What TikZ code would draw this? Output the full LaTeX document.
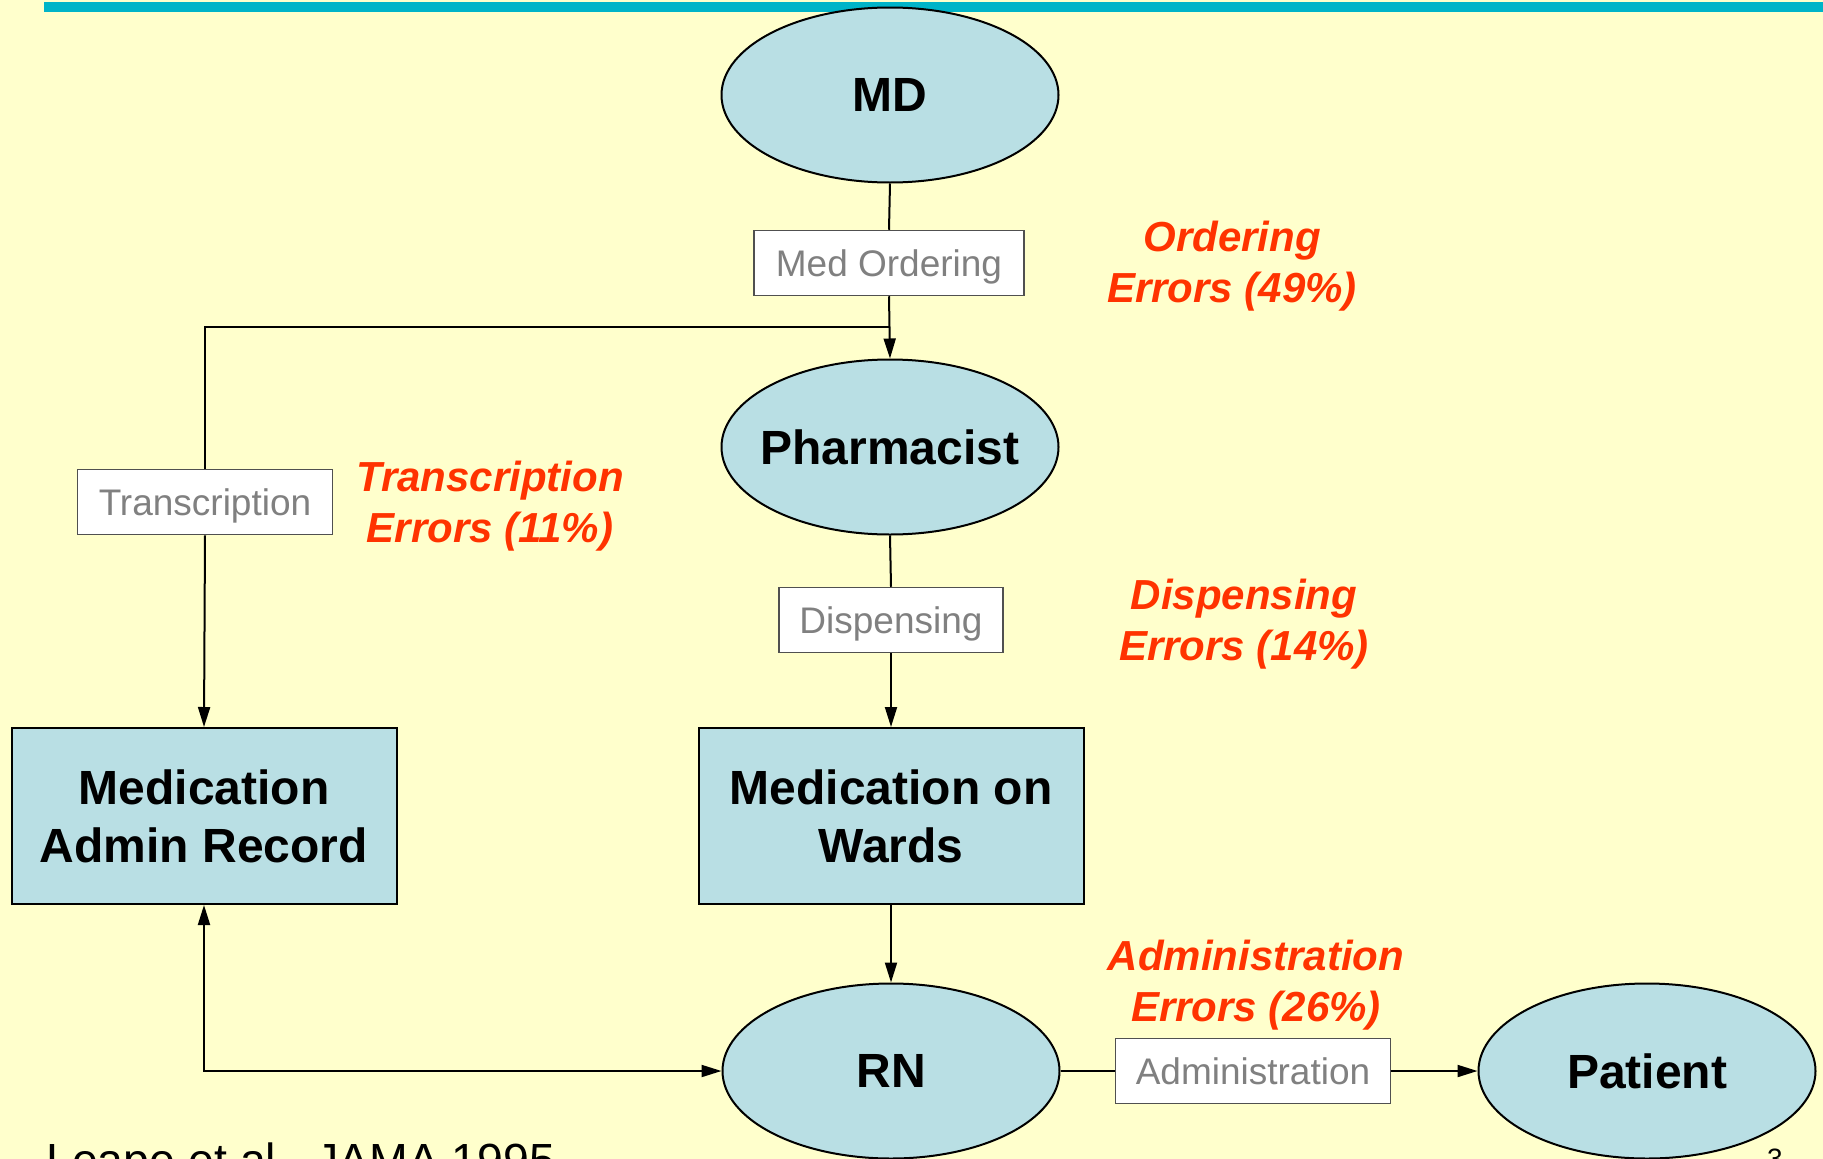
\documentclass[tikz,border=0pt]{standalone}
\usepackage{fontspec}
\setmainfont{Liberation Sans}
\usetikzlibrary{shapes.geometric,arrows.meta}

\definecolor{bgyellow}{RGB}{255,255,204}
\definecolor{barteal}{RGB}{0,180,200}
\definecolor{nodeblue}{RGB}{185,223,228}
\definecolor{errred}{RGB}{255,51,0}
\definecolor{labelgrey}{RGB}{128,128,128}
\definecolor{labelframe}{RGB}{80,80,80}

\newcommand{\ctext}[1]{\makebox[0pt][c]{#1}}

\begin{document}
\begin{tikzpicture}[x=1pt,y=-1pt,
  ellip/.style={ellipse, draw=black, line width=2pt, fill=nodeblue,
    inner sep=0pt, minimum width=337pt, minimum height=175pt,
    font=\fontsize{48}{58}\selectfont\bfseries},
  blockbox/.style={rectangle, draw=black, line width=2pt, fill=nodeblue,
    inner sep=0pt, minimum width=385pt, minimum height=176pt, align=center,
    font=\fontsize{48}{58}\selectfont\bfseries},
  steplabel/.style={rectangle, draw=labelframe, line width=1.5pt, fill=white,
    inner sep=0pt, minimum height=65pt, text=labelgrey, text depth=0pt,
    font=\fontsize{37}{44}\selectfont},
  errtext/.style={text=errred, align=center, inner sep=0pt,
    font=\fontsize{42}{51}\selectfont\bfseries\itshape},
  link/.style={draw=black, line width=2pt},
  arr/.style={link, -{Triangle[length=20pt,width=12pt]}},
  arrboth/.style={link, {Triangle[length=20pt,width=12pt]}-{Triangle[length=20pt,width=12pt]}}
]
% page background and cropping
\fill[bgyellow] (0,0) rectangle (1823,1159);
\clip (0,0) rectangle (1823,1159);
% title rule
\fill[barteal] (44,1.5) rectangle (1823,12);

% actors
\node[ellip] (md) at (890,95) {\ctext{MD}};
\node[ellip] (ph) at (890,447) {\ctext{Pharmacist}};
\node[ellip] (rn) at (891,1071) {\ctext{RN}};
\node[ellip] (pt) at (1647,1071) {\ctext{Patient}};

% records and stock
\node[blockbox] (mar) at (204,816) {Medication\\Admin Record};
\node[blockbox] (wards) at (891,816) {Medication on\\Wards};

% process steps
\node[steplabel, minimum width=270pt] (ordbox) at (889,263) {Med Ordering};
\node[steplabel, minimum width=255pt] (trbox) at (205,502) {Transcription};
\node[steplabel, minimum width=224pt] (dispbox) at (891,620) {Dispensing};
\node[steplabel, minimum width=275pt] (admbox) at (1253,1071) {Administration};

% error rates
\node[errtext] (ordErr) at (1232,266) {Ordering\\Errors (49\%)};
\node[errtext] (trErr) at (490,506) {Transcription\\Errors (11\%)};
\node[errtext] (dispErr) at (1244,624) {Dispensing\\Errors (14\%)};
\node[errtext] (admErr) at (1256,985) {Administration\\Errors (26\%)};

% flow
\coordinate (split) at (889,327);
\draw[link] (md.south) -- (ordbox.north);
\draw[arr] (ordbox.south) -- (ph.north);
\draw[link] (split) -| (trbox.north);
\draw[arr] (trbox.south) -- (mar.north);
\draw[link] (ph.south) -- (dispbox.north);
\draw[arr] (dispbox.south) -- (wards.north);
\draw[arr] (wards.south) -- (rn.north);
\draw[arrboth] (mar.south) |- (rn.west);
\draw[link] (rn.east) -- (admbox.west);
\draw[arr] (admbox.east) -- (pt.west);

% footer
\node[anchor=base west, inner sep=0pt, font=\fontsize{46.5}{56}\selectfont] (cite) at (46,1176) {Leape et al., JAMA 1995};
\node[anchor=base, inner sep=0pt, font=\fontsize{28}{34}\selectfont] (pagenum) at (1775,1168) {3};
\end{tikzpicture}
\end{document}
